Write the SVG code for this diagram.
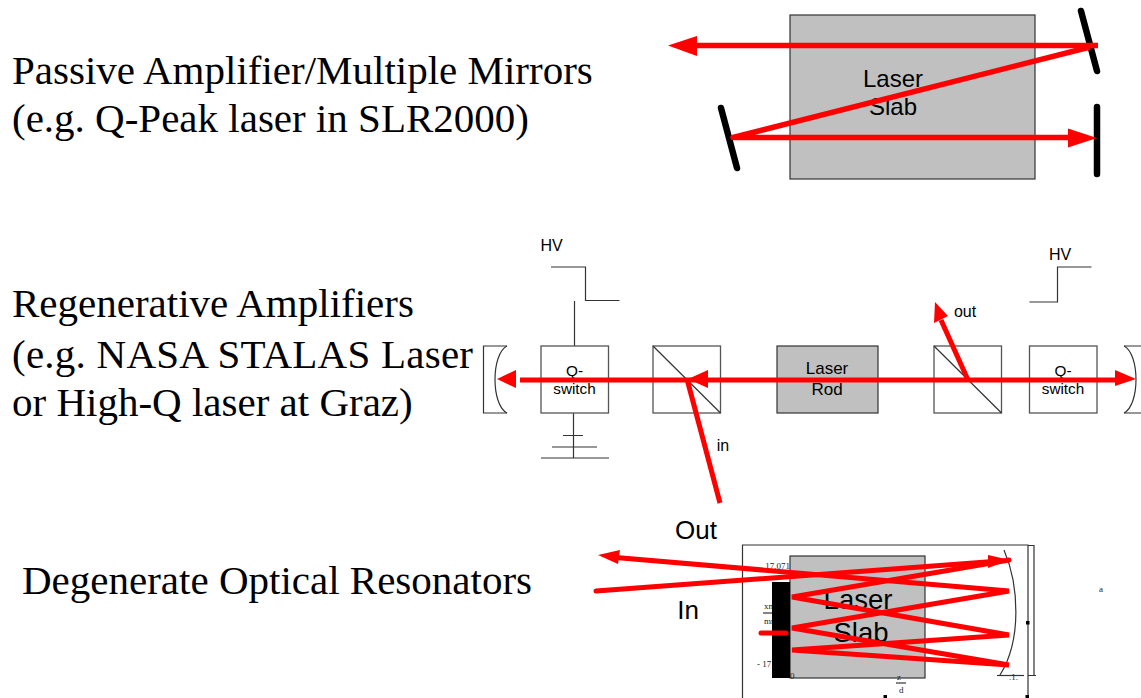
<svg xmlns="http://www.w3.org/2000/svg" width="1141" height="698" viewBox="0 0 1141 698">
<style>
.serif{font-family:"Liberation Serif",serif;fill:#000}
.big{font-size:41px}
.sans{font-family:"Liberation Sans",sans-serif;fill:#000;text-anchor:middle}
.s16{font-size:16px}
.s15{font-size:15.3px}
.s24{font-size:24px}
.s17{font-size:17px}
.s27{font-size:27.5px}
.tiny{font-family:"Liberation Serif",serif;font-size:9px;fill:#222}
.box{fill:#fff;stroke:#555;stroke-width:1.3}
.slab{fill:#c0c0c0;stroke:#333;stroke-width:1.2}
.thin{fill:none;stroke:#333;stroke-width:1.2}
.mirror{fill:none;stroke:#000;stroke-width:6.5;stroke-linecap:round}
.ray{fill:none;stroke:#f00;stroke-width:5}
.ray5{fill:none;stroke:#f00;stroke-width:5.5;stroke-linejoin:round}
.rayb{fill:none;stroke:#f00;stroke-width:5;stroke-linecap:round;stroke-linejoin:miter;stroke-miterlimit:3}
.head{fill:#f00}
</style>

<g id="captions">
<text class="serif big" x="12" y="84">Passive Amplifier/Multiple Mirrors</text>
<text class="serif big" x="12" y="132">(e.g. Q-Peak laser in SLR2000)</text>
<text class="serif big" x="12" y="317">Regenerative Amplifiers</text>
<text class="serif big" x="12" y="368" textLength="461" lengthAdjust="spacing">(e.g. NASA STALAS Laser</text>
<text class="serif big" x="12" y="416">or High-Q laser at Graz)</text>
<text class="serif big" x="22" y="594">Degenerate Optical Resonators</text>
</g>

<g id="slab-top">
<rect class="slab" x="790" y="15" width="245" height="164"/>
<text class="sans s24" x="893" y="87">Laser</text>
<text class="sans s24" x="893" y="115">Slab</text>
</g>
<g id="mirror-top-right"><line class="mirror" x1="1081" y1="11" x2="1097" y2="71"/></g>
<g id="mirror-top-left"><line class="mirror" x1="721" y1="108" x2="737" y2="168"/></g>
<g id="mirror-top-end"><line class="mirror" x1="1097" y1="107" x2="1097" y2="174"/></g>

<g id="hv-left">
<text class="sans s16" x="551.500" y="251">HV</text>
<path class="thin" d="M551 267H585.500V300.500H619.500"/>
<line class="thin" x1="574.500" y1="301" x2="574.500" y2="346"/>
<path class="thin" d="M573.500 413V458M563 435.500H583M552 447H597M541 458H609"/>
</g>
<g id="lens-left">
<path class="thin" d="M507 346H483.500V413H507"/>
<path class="thin" d="M507 346C491 354 491 405 507 413"/>
</g>
<g id="qswitch-left">
<rect class="box" x="541" y="346" width="67.500" height="67"/>
<text class="sans s15" x="574.500" y="376">Q-</text>
<text class="sans s15" x="574.500" y="394">switch</text>
</g>
<g id="polarizer-left">
<rect class="box" x="653" y="346" width="67.500" height="67"/>
<line class="thin" x1="653" y1="346" x2="720.500" y2="413"/>
</g>
<g id="laser-rod">
<rect class="slab" x="777" y="346" width="101" height="67"/>
<text class="sans s17" x="827" y="374">Laser</text>
<text class="sans s17" x="827" y="395">Rod</text>
</g>
<g id="polarizer-right">
<rect class="box" x="934" y="346" width="67.500" height="67"/>
<line class="thin" x1="934" y1="346" x2="1001.500" y2="413"/>
</g>
<g id="qswitch-right">
<rect class="box" x="1029.500" y="346" width="67.500" height="67"/>
<text class="sans s15" x="1063" y="376">Q-</text>
<text class="sans s15" x="1063" y="394">switch</text>
</g>
<g id="lens-right">
<path class="thin" d="M1124 346H1141M1124 413H1141"/>
<path class="thin" d="M1124 346C1140 354 1140 405 1124 413"/>
</g>
<g id="hv-right">
<text class="sans s16" x="1060" y="260">HV</text>
<path class="thin" d="M1029.500 302H1057.500V267H1091.500"/>
</g>
<g id="labels-mid">
<text class="sans s16" x="965" y="317">out</text>
<text class="sans s16" x="723" y="451">in</text>
<text class="sans" font-size="26" x="696" y="539">Out</text>
<text class="sans" font-size="26" x="688" y="619">In</text>
</g>

<g id="frame-bottom">
<path class="thin" d="M742.500 698V545H1028V698"/>
<path class="thin" d="M1028 545.500H1034V675.500M1028 675.500H1036"/>
<rect x="1026" y="621" width="3.500" height="3.500" fill="#000"/>
<rect x="883.500" y="695" width="3.500" height="3" fill="#000"/>
<rect x="1025.500" y="695" width="3.500" height="3" fill="#000"/>
<path class="thin" d="M997 675.500H1024"/>
<path class="thin" d="M1004 550C1019 585 1022 640 1000 675"/>
<text class="tiny" x="1099" y="592">a</text>
<text class="tiny" x="763" y="569">.17.071</text>
<text class="tiny" x="764" y="609">xn</text>
<line class="thin" x1="763" y1="613" x2="773" y2="613"/>
<text class="tiny" x="764" y="624">mn</text>
<text class="tiny" x="757" y="667">- 17</text>
<text class="tiny" x="1009" y="680">.1.</text>
</g>
<g id="slab-bottom">
<rect class="slab" x="790" y="556" width="135" height="122"/>
<rect x="772" y="582" width="18" height="96" fill="#000"/>
<text class="sans s27" x="858" y="609">Laser</text>
<text class="sans s27" x="861" y="642">Slab</text>
<text class="tiny" x="790" y="679">0</text>
<text class="tiny" x="897" y="680">z</text>
<line class="thin" x1="896" y1="683" x2="906" y2="683"/>
<text class="tiny" x="899" y="693">d</text>
</g>

<g id="connectors">
<path class="ray5" d="M1098 45.500H690"/>
<polygon class="head" points="668,45.500 697,36 697,56"/>
<path class="ray5" d="M1090 47L733 137.500H1072"/>
<polygon class="head" points="1097,138 1068,128.500 1068,147.500"/>

<path class="ray" d="M1115 380H520"/>
<polygon class="head" points="497,379 516,370 516,388"/>
<polygon class="head" points="688,379 708,370 708,388"/>
<polygon class="head" points="1136,379 1115,370 1115,386"/>
<path class="ray" d="M720 503L687 379"/>
<path class="ray" d="M968 380L941 320"/>
<polygon class="head" points="935,302 948,316 934,323"/>

<path class="rayb" d="M596 591L1000 561"/>
<polygon class="head" points="1010,560 988,555 988,568"/>
<path class="rayb" d="M1009 560L792 597L1009 635L792 650L1009 665L792 628L1009 591L610 557"/>
<polygon class="head" points="598,555 620,550 618,564"/>
<path class="rayb" d="M761 633H786"/>
</g>
</svg>
